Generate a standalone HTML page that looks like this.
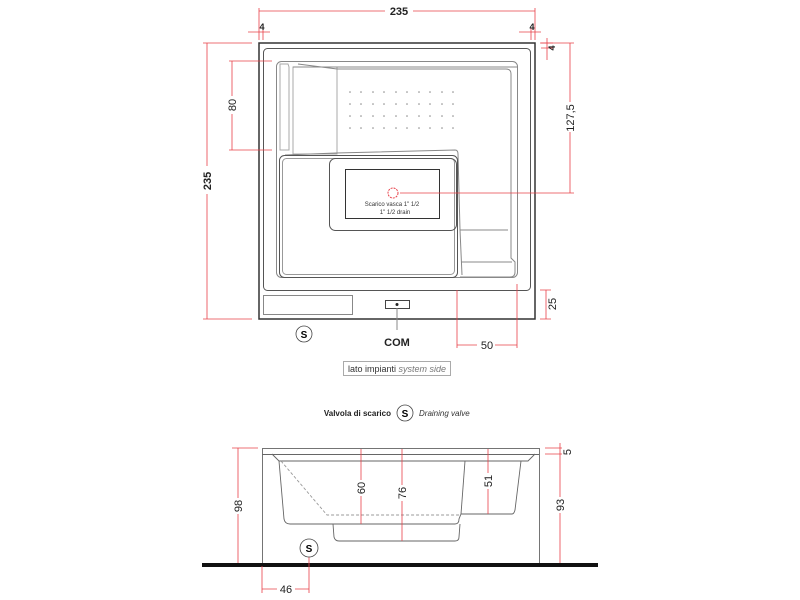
<!DOCTYPE html>
<html><head><meta charset="utf-8"><style>
html,body{margin:0;padding:0;background:#fff;}
svg{display:block;}
text{font-family:"Liberation Sans",Arial,sans-serif;}
</style></head><body>
<svg width="800" height="600" viewBox="0 0 800 600" xmlns="http://www.w3.org/2000/svg">
<g fill="none" stroke="#555" stroke-width="1">
<rect x="259" y="43" width="276" height="276" stroke="#333" stroke-width="1.5"/>
<rect x="263.5" y="48.5" width="267" height="242" rx="4"/>
<rect x="276.5" y="61.5" width="241" height="216" rx="5" stroke="#888"/>
<path d="M293 67 L337 67 L337 154 L293 154 Z" stroke="#aaa"/>
<path d="M293 67 L517 67 M298 64 L337 69 L506 69 Q511 69 511 74 L511 258 L515 262 L515 272 Q515 277 510 277 L460 277" stroke="#888"/>
<path d="M288 64 L280 64 L280 150 L289 150 L289 67 Z" stroke="#aaa"/>
<path d="M285 155 L336 153 L455 150 Q458 150 458 154 L460 230 L462 275" stroke="#888"/>
<rect x="279.5" y="155.5" width="178" height="122" rx="5"/>
<rect x="282.5" y="158.5" width="172" height="116" rx="4" stroke="#999"/>
<rect x="329.5" y="158.5" width="127" height="72" rx="6"/>
<rect x="345.5" y="169.5" width="94" height="49" stroke="#333"/>
<path d="M460 230 L508 230 M461 262 L512 262" stroke="#888"/>
<rect x="263.5" y="295.5" width="89" height="19" stroke="#888"/>
<rect x="385.5" y="300.5" width="24" height="8" stroke="#444"/>
<line x1="397" y1="308" x2="397" y2="330" stroke="#888"/>
</g>
<circle cx="397" cy="304.5" r="1.5" fill="#222"/>
<g fill="#888">
<g id="dr"><circle cx="350" cy="92" r="0.8"/><circle cx="361" cy="92" r="0.8"/><circle cx="373" cy="92" r="0.8"/><circle cx="384" cy="92" r="0.8"/><circle cx="396" cy="92" r="0.8"/><circle cx="407" cy="92" r="0.8"/><circle cx="419" cy="92" r="0.8"/><circle cx="430" cy="92" r="0.8"/><circle cx="442" cy="92" r="0.8"/><circle cx="453" cy="92" r="0.8"/></g>
<use href="#dr" y="12"/><use href="#dr" y="24"/><use href="#dr" y="36"/>
</g>
<circle cx="393" cy="193" r="5" fill="none" stroke="#e8414a" stroke-dasharray="2,1"/>
<text x="392" y="206" font-size="6" text-anchor="middle" fill="#333">Scarico vasca 1" 1/2</text>
<text x="395" y="214" font-size="6" text-anchor="middle" fill="#333">1" 1/2  drain</text>

<g stroke="#e8414a" stroke-width="0.8" fill="none">
<path d="M259 11 L535 11 M259 8 L259 40 M535 8 L535 40"/>
<path d="M248 32 L270 32 M263 28 L263 40 M519 32 L541 32 M531 28 L531 40"/>
<path d="M541 43 L553 43 M541 48 L553 48 M547 38 L547 60"/>
<path d="M207 43 L207 319 M203 43 L252 43 M203 319 L252 319"/>
<path d="M232 61 L232 150 M229 61 L272 61 M229 150 L272 150"/>
<path d="M570 43 L570 193 M540 43 L574 43 M400 193 L574 193"/>
<path d="M546 290 L546 319 M540 290 L551 290 M540 319 L551 319"/>
<path d="M457 290 L457 348 M517 284 L517 348 M457 345 L517 345"/>
</g>
<g font-size="11" fill="#222" font-weight="bold">
<rect x="385" y="4" width="28" height="14" fill="#fff"/>
<text x="399" y="15" text-anchor="middle">235</text>
<text x="262" y="30" text-anchor="middle" font-size="9">4</text>
<text x="532" y="30" text-anchor="middle" font-size="9">4</text>
<text transform="translate(555 48) rotate(-90)" text-anchor="middle" font-size="9">4</text>
<rect x="200" y="166" width="14" height="28" fill="#fff"/>
<text transform="translate(211 181) rotate(-90)" text-anchor="middle">235</text>
<rect x="226" y="96" width="12" height="18" fill="#fff"/>
<text transform="translate(236 105) rotate(-90)" text-anchor="middle" font-weight="normal">80</text>
<rect x="563" y="102" width="14" height="30" fill="#fff"/>
<text transform="translate(574 118) rotate(-90)" text-anchor="middle" font-weight="normal">127,5</text>
<text transform="translate(556 304) rotate(-90)" text-anchor="middle" font-weight="normal">25</text>
<rect x="477" y="339" width="18" height="12" fill="#fff"/>
<text x="487" y="349" text-anchor="middle" font-weight="normal">50</text>
<text x="397" y="346" text-anchor="middle">COM</text>
</g>
<circle cx="304" cy="334" r="8" fill="#fff" stroke="#444" stroke-width="0.8"/>
<text x="304" y="338" font-size="10" font-weight="bold" text-anchor="middle">S</text>
<rect x="343.5" y="361.5" width="107" height="14" fill="#fff" stroke="#aaa"/>
<text x="348" y="372" font-size="9" fill="#333">lato impianti <tspan font-style="italic" fill="#777">system side</tspan></text>

<text x="391" y="416" font-size="8" font-weight="bold" text-anchor="end" fill="#222">Valvola di scarico</text>
<circle cx="405" cy="413" r="8" fill="#fff" stroke="#444" stroke-width="0.8"/>
<text x="405" y="417" font-size="10" font-weight="bold" text-anchor="middle">S</text>
<text x="419" y="416" font-size="8" font-style="italic" fill="#333">Draining valve</text>

<g fill="none" stroke="#666" stroke-width="0.9">
<rect x="262.5" y="448.5" width="277" height="115"/>
<line x1="262" y1="454.5" x2="539" y2="454.5"/>
<path d="M272 454 L279 461 L528 461 L535 454"/>
<path d="M279 461 L284 519 Q285 524 290 524 L455 524 Q459 524 459 519 L461 514 L512 514 Q514 514 515 510 L521 461"/>
<path d="M465 461 L461 514"/>
<path d="M333 524 L334 537 Q335 541 339 541 L455 541 Q459 541 459 537 L460 524"/>
<path d="M281 461 L327 515 L460 515" stroke-dasharray="3,2" stroke="#999"/>
</g>
<rect x="202" y="563" width="396" height="4" fill="#111"/>
<g stroke="#e8414a" stroke-width="0.8" fill="none">
<path d="M238 448 L238 563 M232 448 L258 448"/>
<path d="M361 449 L361 524 M402 449 L402 541 M488 449 L488 514"/>
<path d="M560 443 L560 454 M545 448 L562 448 M545 454 L562 454 M560 454 L560 563"/>
<path d="M262 566 L262 593 M309 557 L309 593 M262 589 L309 589"/>
</g>
<circle cx="309" cy="548" r="9" fill="#fff" stroke="#444" stroke-width="0.8"/>
<text x="309" y="552" font-size="10" font-weight="bold" text-anchor="middle">S</text>
<g font-size="11" fill="#222">
<rect x="355" y="480" width="12" height="16" fill="#fff"/>
<text transform="translate(365 488) rotate(-90)" text-anchor="middle">60</text>
<rect x="396" y="485" width="12" height="16" fill="#fff"/>
<text transform="translate(406 493) rotate(-90)" text-anchor="middle">76</text>
<rect x="482" y="473" width="12" height="16" fill="#fff"/>
<text transform="translate(492 481) rotate(-90)" text-anchor="middle">51</text>
<rect x="232" y="498" width="12" height="16" fill="#fff"/>
<text transform="translate(242 506) rotate(-90)" text-anchor="middle">98</text>
<rect x="554" y="497" width="12" height="16" fill="#fff"/>
<text transform="translate(564 505) rotate(-90)" text-anchor="middle">93</text>
<text transform="translate(571 452) rotate(-90)" text-anchor="middle">5</text>
<rect x="277" y="583" width="18" height="12" fill="#fff"/>
<text x="286" y="593" text-anchor="middle">46</text>
</g>
</svg>
</body></html>
